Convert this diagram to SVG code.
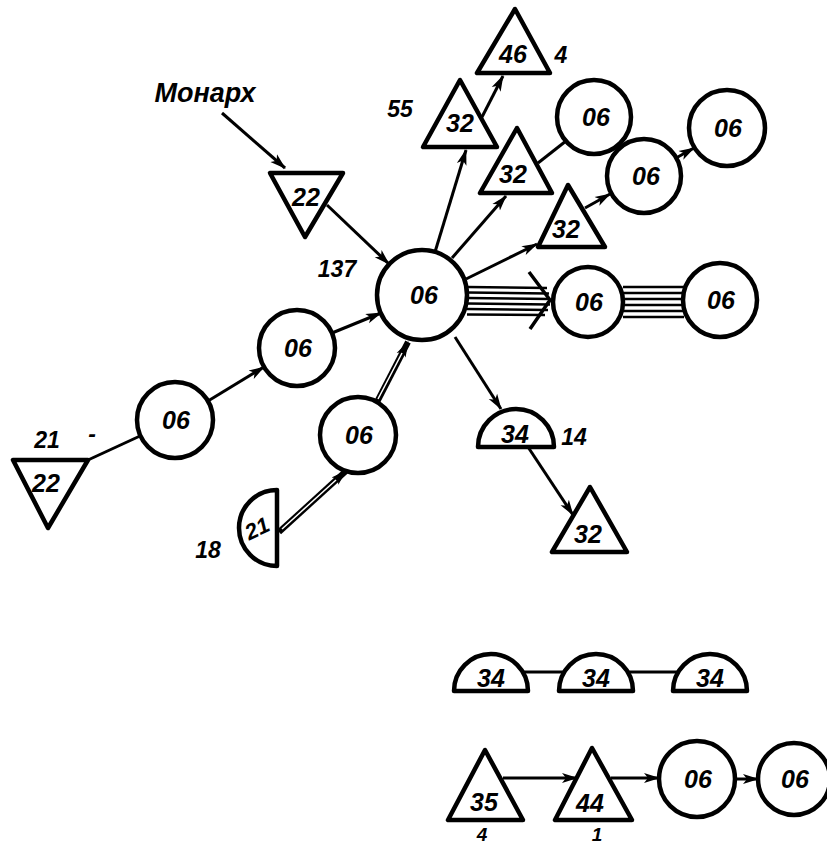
<svg xmlns="http://www.w3.org/2000/svg" width="827" height="846" viewBox="0 0 827 846">
<defs>
<marker id="ah" markerUnits="userSpaceOnUse" markerWidth="16" markerHeight="12" viewBox="0 0 16 12" refX="15" refY="6" orient="auto">
<path d="M0,1 L16,6 L0,11 L4,6 Z" fill="#000"/>
</marker>
</defs>
<style>
.n{fill:#fff;stroke:#000;stroke-width:4.5;stroke-linejoin:round}
.t{font-family:"Liberation Sans",Arial,sans-serif;font-weight:bold;font-style:italic;font-size:25px;text-anchor:middle;fill:#000}
.l{font-family:"Liberation Sans",Arial,sans-serif;font-weight:bold;font-style:italic;font-size:23px;text-anchor:middle;fill:#000}
.c{stroke:#000;stroke-width:3;fill:none}
.a{marker-end:url(#ah)}
.d{stroke:#000;stroke-width:6;fill:none}
.w{stroke:#fff;stroke-width:1.5;fill:none}
.m{stroke:#000;stroke-width:2.5;fill:none}
</style>
<g id="connectors">
<line class="c a" x1="222" y1="113" x2="285" y2="168"/>
<line class="c a" x1="327" y1="205" x2="389" y2="264"/>
<line class="c a" x1="208" y1="401" x2="264" y2="367"/>
<line class="c a" x1="332" y1="333" x2="381" y2="313"/>
<line class="c" x1="88" y1="460" x2="140" y2="436"/>
<line class="d a" x1="279" y1="532" x2="346" y2="471"/>
<line class="w" x1="282" y1="529" x2="336" y2="480"/>
<line class="d a" x1="377" y1="402" x2="408" y2="342"/>
<line class="w" x1="378" y1="399" x2="402" y2="353"/>
<line class="c a" x1="435" y1="252" x2="466" y2="150"/>
<line class="c a" x1="482" y1="117" x2="503" y2="76"/>
<line class="c a" x1="452" y1="258" x2="506" y2="196"/>
<line class="c" x1="538" y1="163" x2="566" y2="141"/>
<line class="c a" x1="466" y1="279" x2="537" y2="244"/>
<line class="c a" x1="585" y1="208" x2="610" y2="194"/>
<line class="c a" x1="676" y1="158" x2="694" y2="148"/>
<g class="m">
<line x1="467" y1="287" x2="547" y2="288"/>
<line x1="467" y1="292.5" x2="549" y2="293.5"/>
<line x1="467" y1="298" x2="550" y2="299"/>
<line x1="467" y1="303.5" x2="550" y2="304.5"/>
<line x1="467" y1="309" x2="548" y2="310"/>
<line x1="467" y1="314.5" x2="545" y2="315"/>
</g>
<polyline points="529,272 550,300 530,329" style="stroke:#000;stroke-width:3.5;fill:none;stroke-linejoin:miter"/>
<g class="m">
<line x1="623" y1="287" x2="684" y2="287"/>
<line x1="623" y1="293" x2="684" y2="293"/>
<line x1="623" y1="299" x2="684" y2="299"/>
<line x1="623" y1="305" x2="684" y2="305"/>
<line x1="623" y1="311" x2="684" y2="311"/>
<line x1="623" y1="317" x2="684" y2="317"/>
</g>
<line class="c a" x1="455" y1="337" x2="501" y2="409"/>
<line class="c a" x1="528" y1="447" x2="573" y2="515"/>
<line class="c" x1="522" y1="672" x2="565" y2="672"/>
<line class="c" x1="627" y1="672" x2="679" y2="672"/>
<line class="c a" x1="503" y1="778" x2="577" y2="778"/>
<line class="c a" x1="611" y1="778" x2="659" y2="778"/>
<line class="c a" x1="735" y1="779" x2="758" y2="779"/>
</g>
<g id="label-monarkh"><text class="t" x="205" y="102" style="font-size:27px">Монарх</text></g>
<g id="n-t22-top"><polygon class="n" points="270,173 343,173 305,237"/><text class="t" x="306" y="206">22</text></g>
<g id="n-c0"><circle class="n" cx="422" cy="295" r="45"/><text class="t" x="424" y="304">06</text></g>
<g id="label-137"><text class="l" x="337" y="277">137</text></g>
<g id="n-c1"><circle class="n" cx="297" cy="348" r="38"/><text class="t" x="298" y="357">06</text></g>
<g id="n-c2"><circle class="n" cx="175" cy="420" r="38"/><text class="t" x="176" y="429">06</text></g>
<g id="n-t22-low"><polygon class="n" points="13,460 88,460 48,528"/><text class="t" x="46" y="492">22</text></g>
<g id="label-21"><text class="l" x="47" y="448">21</text><text class="l" x="92" y="442">-</text></g>
<g id="n-c3"><circle class="n" cx="358" cy="435" r="38"/><text class="t" x="359" y="444">06</text></g>
<g id="n-hc21"><path class="n" d="M277,490 A38,38 0 0 0 277,566 Z"/><text class="t" x="257" y="536" style="font-size:22px" transform="rotate(-25 257 528)">21</text></g>
<g id="label-18"><text class="l" x="208" y="558">18</text></g>
<g id="n-t46"><polygon class="n" points="477,73 550,73 515,9"/><text class="t" x="513" y="63">46</text></g>
<g id="label-4a"><text class="l" x="561" y="63">4</text></g>
<g id="n-t32a"><polygon class="n" points="423,147 497,147 460,80"/><text class="t" x="460" y="132">32</text></g>
<g id="label-55"><text class="l" x="400" y="117">55</text></g>
<g id="n-t32b"><polygon class="n" points="480,193 552,193 517,128"/><text class="t" x="513" y="183">32</text></g>
<g id="n-c4"><circle class="n" cx="594" cy="117" r="37"/><text class="t" x="596" y="126">06</text></g>
<g id="n-t32c"><polygon class="n" points="538,247 605,247 568,185"/><text class="t" x="566" y="238">32</text></g>
<g id="n-c5"><circle class="n" cx="644" cy="176" r="37"/><text class="t" x="646" y="185">06</text></g>
<g id="n-c6"><circle class="n" cx="727" cy="128" r="38"/><text class="t" x="728" y="137">06</text></g>
<g id="n-c7"><circle class="n" cx="588" cy="302" r="35"/><text class="t" x="589" y="311">06</text></g>
<g id="n-c8"><circle class="n" cx="720" cy="300" r="37"/><text class="t" x="721" y="309">06</text></g>
<g id="n-hc34"><path class="n" d="M478,447 A38,38 0 0 1 554,447 Z"/><text class="t" x="515" y="443">34</text></g>
<g id="label-14"><text class="l" x="574" y="445">14</text></g>
<g id="n-t32d"><polygon class="n" points="552,552 627,552 590,487"/><text class="t" x="588" y="543">32</text></g>
<g id="n-hc34-1"><path class="n" d="M454,691 A37,37 0 0 1 528,691 Z"/><text class="t" x="491" y="687">34</text></g>
<g id="n-hc34-2"><path class="n" d="M559,691 A37,37 0 0 1 633,691 Z"/><text class="t" x="596" y="687">34</text></g>
<g id="n-hc34-3"><path class="n" d="M673,691 A37,37 0 0 1 747,691 Z"/><text class="t" x="710" y="687">34</text></g>
<g id="n-t35"><polygon class="n" points="448,820 523,820 485,750"/><text class="t" x="484" y="811">35</text></g>
<g id="label-4b"><text class="l" x="482" y="841" style="font-size:19px">4</text></g>
<g id="n-t44"><polygon class="n" points="555,820 632,820 592,748"/><text class="t" x="590" y="812">44</text></g>
<g id="label-1"><text class="l" x="597" y="841" style="font-size:19px">1</text></g>
<g id="n-c9"><circle class="n" cx="697" cy="779" r="38"/><text class="t" x="698" y="788">06</text></g>
<g id="n-c10"><circle class="n" cx="794" cy="779" r="36"/><text class="t" x="795" y="788">06</text></g>
</svg>
